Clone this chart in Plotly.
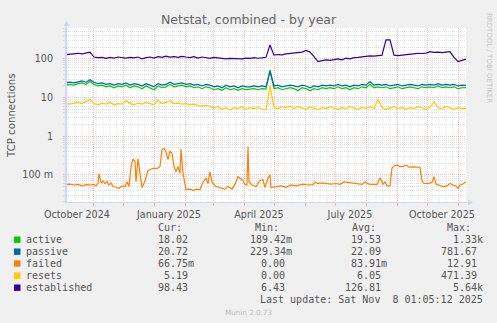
import pandas as pd
import plotly.graph_objects as go

# ---------------- data ----------------
start = pd.Timestamp("2024-10-04 01:05:12")
end = pd.Timestamp("2025-11-08 01:05:12")

sample_days = list(range(0, 401, 4))

active = [21, 22, 21, 23, 24, 22, 26, 22, 20, 21,
          19, 20, 18, 20, 19, 21, 18, 20, 19, 17,
          20, 18, 16, 20, 18, 19, 22, 19, 20, 21,
          19, 20, 18, 19, 17, 19, 18, 16, 17, 15.5,
          18, 16, 17, 15.5, 17, 16, 16.5, 17, 16, 17,
          16.5, 52, 17, 18, 16, 17, 18, 17, 15, 18,
          17, 15, 17, 16, 18, 17, 18, 17, 19, 17,
          18, 16, 18, 17, 19, 18, 22, 18, 19, 18,
          19, 17, 18, 19, 17, 18, 19, 18, 17, 19,
          18, 19, 18, 20, 18, 19, 18, 19, 17, 18,
          18.02]

passive = [24, 25, 24, 26, 27, 25, 29, 25, 23, 24,
           22, 23, 21, 23, 22, 24, 21, 23, 22, 20,
           23, 21, 19, 23, 21, 22, 25, 22, 23, 24,
           22, 23, 21, 22, 20, 22, 21, 19, 20, 18,
           21, 19, 20, 18, 20, 19, 19, 20, 19, 20,
           19, 48, 20, 21, 19, 20, 21, 20, 19, 21,
           20, 18, 20, 19, 21, 20, 21, 20, 22, 20,
           21, 19, 21, 20, 22, 21, 26, 21, 22, 21,
           22, 20, 21, 22, 20, 21, 22, 21, 20, 22,
           21, 22, 21, 23, 21, 22, 21, 22, 20, 21,
           20.72]

resets = [7.0, 6.8, 7.2, 7.5, 7.0, 8.0, 9.0, 7.0, 6.5, 7.2,
          6.8, 7.5, 6.5, 7.0, 6.8, 8.5, 7.0, 6.5, 7.2, 6.8,
          7.5, 7.0, 6.5, 8.5, 7.0, 7.5, 8.2, 7.0, 7.2, 6.8,
          7.0, 6.5, 6.8, 6.2, 6.0, 6.3, 5.8, 5.5, 5.8, 5.0,
          5.5, 4.8, 5.5, 5.2, 5.8, 5.0, 5.5, 5.2, 5.6, 5.0,
          4.8, 20, 5.5, 5.2, 5.8, 5.5, 6.0, 5.2, 5.8, 5.5,
          5.0, 5.8, 5.4, 4.8, 5.5, 5.2, 5.8, 5.4, 5.0, 5.6,
          5.2, 5.8, 5.4, 5.0, 5.6, 5.3, 5.8, 5.2, 9.0, 5.5,
          5.0, 5.4, 5.8, 5.2, 5.6, 5.0, 5.5, 5.2, 5.8, 5.4,
          5.0, 5.6, 7.8, 5.5, 5.2, 5.8, 5.4, 5.0, 5.5, 5.2,
          5.19]

established = [130, 135, 138, 140, 135, 145, 150, 112, 108, 110,
               104, 110, 105, 112, 108, 105, 110, 106, 112, 100,
               108, 112, 105, 115, 110, 118, 112, 115, 110, 117,
               112, 108, 115, 105, 112, 108, 103, 110, 106, 104,
               100, 103, 102, 104, 100, 105, 103, 108, 104, 106,
               110, 230, 125, 130, 128, 135, 138, 140, 145, 150,
               165, 150, 115, 85, 90, 95, 92, 98, 100, 95,
               105, 100, 108, 110, 115, 118, 120, 118, 122, 125,
               310, 310, 125, 122, 125, 128, 132, 138, 140, 138,
               142, 155, 148, 150, 145, 150, 155, 110, 85, 92,
               98.43]

failed_days = [0, 4, 8, 12, 16, 20, 24, 28, 30, 32, 33, 35, 37, 39, 41, 43, 45, 47, 50, 53,
               56, 59, 61, 63, 65, 67, 69, 70, 72, 74, 76, 79, 82, 85, 88, 91, 94, 96, 98, 100,
               102, 104, 106, 108, 110, 112, 114, 115, 117, 120, 124, 127, 131, 134, 137, 140,
               142, 144, 146, 150, 154, 159, 162, 166, 169, 172, 176, 179, 181, 182, 183, 186,
               190, 194, 197, 199, 202, 204, 205, 210, 215, 220, 225, 230, 234, 237, 242, 247,
               249, 252, 256, 260, 265, 270, 274, 278, 283, 288, 293, 296, 299, 303, 307, 311,
               314, 317, 319, 321, 324, 326, 328, 331, 334, 337, 340, 343, 347, 351, 354, 356,
               358, 362, 366, 368, 370, 374, 378, 381, 384, 387, 390, 392, 394, 397, 400]
failed = [0.057, 0.058, 0.055, 0.057, 0.052, 0.056, 0.055, 0.057, 0.052, 0.060, 0.108, 0.062,
          0.070, 0.060, 0.068, 0.055, 0.062, 0.050, 0.048, 0.045, 0.052, 0.050, 0.067, 0.050,
          0.165, 0.26, 0.22, 0.067, 0.26, 0.10, 0.047, 0.07, 0.13, 0.14, 0.15, 0.145, 0.165,
          0.45, 0.49, 0.40, 0.25, 0.42, 0.36, 0.165, 0.12, 0.165, 0.11, 0.46, 0.11, 0.042,
          0.043, 0.040, 0.043, 0.042, 0.065, 0.083, 0.060, 0.12, 0.065, 0.050, 0.047, 0.043,
          0.050, 0.043, 0.057, 0.090, 0.075, 0.057, 0.055, 0.54, 0.067, 0.055, 0.050, 0.072,
          0.075, 0.047, 0.083, 0.10, 0.047, 0.050, 0.052, 0.048, 0.055, 0.052, 0.055, 0.058,
          0.055, 0.056, 0.066, 0.060, 0.062, 0.060, 0.058, 0.060, 0.057, 0.066, 0.064, 0.062,
          0.060, 0.057, 0.066, 0.058, 0.057, 0.056, 0.085, 0.058, 0.066, 0.052, 0.052, 0.15,
          0.17, 0.18, 0.165, 0.167, 0.18, 0.16, 0.162, 0.16, 0.158, 0.07, 0.060, 0.060, 0.064,
          0.09, 0.058, 0.053, 0.050, 0.052, 0.060, 0.055, 0.052, 0.045, 0.055, 0.058, 0.0668]

series_names = ["active", "passive", "failed", "resets", "established"]
series_colors = ["#00CC00", "#0066B3", "#FF8000", "#FFCC00", "#330099"]
stat_cur = ["18.02", "20.72", "66.75m", "5.19", "98.43"]
stat_min = ["189.42m", "229.34m", "0.00", "0.00", "6.43"]
stat_avg = ["19.53", "22.09", "83.91m", "6.05", "126.81"]
stat_max = ["1.33k", "781.67", "12.91", "471.39", "5.64k"]

x_label_dates = ["2024-10-15", "2025-01-15", "2025-04-15", "2025-07-15", "2025-10-15"]
x_label_text = ["October 2024", "January 2025", "April 2025", "July 2025", "October 2025"]
y_tick_vals = [0.1, 1, 10, 100]
y_tick_text = ["100 m", "1", "10", "100"]

title_text = "Netstat, combined - by year"
y_title = "TCP connections"
last_update = "Last update: Sat Nov\u00a0\u00a08 01:05:12 2025"

# ---------------- layout helpers ----------------
W, H = 497, 323
ML, MR, MT, MB = 66, 31, 28, 121
PW, PH = W - ML - MR, H - MT - MB


def px(x):
    return (x - ML) / PW


def py(y):
    return (H - MB - y) / PH


def to_dates(days):
    return [start + pd.Timedelta(days=d) for d in days]


RED = "rgba(225,90,90,0.38)"
GREY = "rgba(150,150,150,0.28)"
AXIS = "#CFD6F8"
TXT = "#555555"

fig = go.Figure()
x_common = to_dates(sample_days)
data_map = {
    "active": (x_common, active),
    "passive": (x_common, passive),
    "failed": (to_dates(failed_days), failed),
    "resets": (x_common, resets),
    "established": (x_common, established),
}
for name, col in zip(series_names, series_colors):
    xs, ys = data_map[name]
    fig.add_trace(go.Scatter(x=xs, y=ys, mode="lines", name=name,
                             line=dict(color=col, width=1.2), hoverinfo="skip"))

month_starts = pd.date_range("2024-11-01", "2025-11-01", freq="MS")
minor_y = [m * 10.0 ** e for e in (-2, -1, 0, 1, 2) for m in range(2, 10)]
minor_y = [v for v in minor_y if v < 640]

fig.update_layout(
    width=W, height=H, autosize=False,
    margin=dict(l=ML, r=MR, t=MT, b=MB, pad=0),
    paper_bgcolor="#F0F0F0", plot_bgcolor="#FFFFFF",
    showlegend=False,
    font=dict(family="DejaVu Sans", color=TXT),
    xaxis=dict(type="date", range=[start, end], tickmode="array",
               tickvals=x_label_dates, ticktext=x_label_text, ticks="",
               showgrid=False, showline=True, linecolor=AXIS, linewidth=1,
               zeroline=False, tickfont=dict(size=9.6, color=TXT),
               ticklabelstandoff=3,
               minor=dict(tickmode="array", tickvals=list(month_starts), showgrid=True,
                          gridcolor=RED, griddash="1px,1px", gridwidth=1,
                          ticks="outside", ticklen=3, tickcolor=RED)),
    yaxis=dict(type="log", range=[-1.70, 2.80], tickmode="array",
               tickvals=y_tick_vals, ticktext=y_tick_text,
               showgrid=True, gridcolor=RED, griddash="1px,1px", gridwidth=1,
               ticks="outside", ticklen=2, tickcolor=RED,
               showline=True, linecolor=AXIS, linewidth=1, zeroline=False,
               tickfont=dict(size=9.6, color=TXT), ticklabelstandoff=8,
               minor=dict(tickmode="array", tickvals=minor_y, showgrid=True,
                          gridcolor=GREY, griddash="1px,1px", gridwidth=1,
                          ticks="outside", ticklen=2, tickcolor=GREY)),
)

shapes = []
# weekly minor vertical grid (Sundays)
for d in pd.date_range("2024-10-06", end, freq="7D"):
    if d.day == 1:
        continue
    shapes.append(dict(type="line", xref="x", yref="paper", x0=d, x1=d, y0=0, y1=1,
                       line=dict(color=GREY, width=1, dash="1px,1px"), layer="below"))
# axis extensions & arrows
shapes.append(dict(type="line", xref="paper", yref="paper", x0=px(66.5), x1=px(66.5),
                   y0=py(202), y1=py(25), line=dict(color=AXIS, width=1)))
shapes.append(dict(type="path", xref="paper", yref="paper",
                   path=f"M {px(63.5)} {py(26)} L {px(69.5)} {py(26)} L {px(66.5)} {py(21)} Z",
                   fillcolor=AXIS, line=dict(width=0)))
shapes.append(dict(type="line", xref="paper", yref="paper", x0=px(66), x1=px(469),
                   y0=py(202.5), y1=py(202.5), line=dict(color=AXIS, width=1)))
shapes.append(dict(type="path", xref="paper", yref="paper",
                   path=f"M {px(468)} {py(199.5)} L {px(468)} {py(205.5)} L {px(473)} {py(202.5)} Z",
                   fillcolor=AXIS, line=dict(width=0)))

annotations = []


def ann(text, x, y, xanchor="left", size=10, family="DejaVu Sans Mono", color=TXT, angle=0):
    annotations.append(dict(text=text, x=px(x), y=py(y), xref="paper", yref="paper",
                            xanchor=xanchor, yanchor="middle", showarrow=False,
                            font=dict(family=family, size=size, color=color),
                            textangle=angle, borderpad=0, borderwidth=0))


ann(title_text, 249, 19.5, xanchor="center", size=12.5, family="DejaVu Sans", color="#666666")
ann(y_title, 11, 115, xanchor="center", size=10.2, family="DejaVu Sans", color=TXT, angle=-90)
ann("RRDTOOL / TOBI OETIKER", 489, 58, xanchor="center", size=7, family="DejaVu Sans",
    color="#C4C4C4", angle=90)
ann("Munin 2.0.73", 248, 312, xanchor="center", size=7.2, family="DejaVu Sans", color="#BBBBBB")

CW = 6.02
col_edges = [194, 291.5, 387, 483]
col_heads = ["Cur:", "Min:", "Avg:", "Max:"]
head_x = [157.5, 254.5, 351.5, 446.5]
for h, hx in zip(col_heads, head_x):
    ann(h, hx, 227.7)

row_y = [239.7, 251.7, 263.5, 275.7, 287.7]
for i, name in enumerate(series_names):
    yy = row_y[i]
    shapes.append(dict(type="rect", xref="paper", yref="paper",
                       x0=px(14), x1=px(20.5), y0=py(yy - 3.2), y1=py(yy + 3.2),
                       fillcolor=series_colors[i], line=dict(width=0)))
    ann(name, 25.5, yy)
    for vals, edge in zip([stat_cur, stat_min, stat_avg, stat_max], col_edges):
        v = vals[i]
        xr = edge if v[-1].isalpha() else edge - CW
        ann(v, xr, yy, xanchor="right")
ann(last_update, 483, 299.5, xanchor="right")

fig.update_layout(shapes=shapes, annotations=annotations)
fig.write_html("out.html")
